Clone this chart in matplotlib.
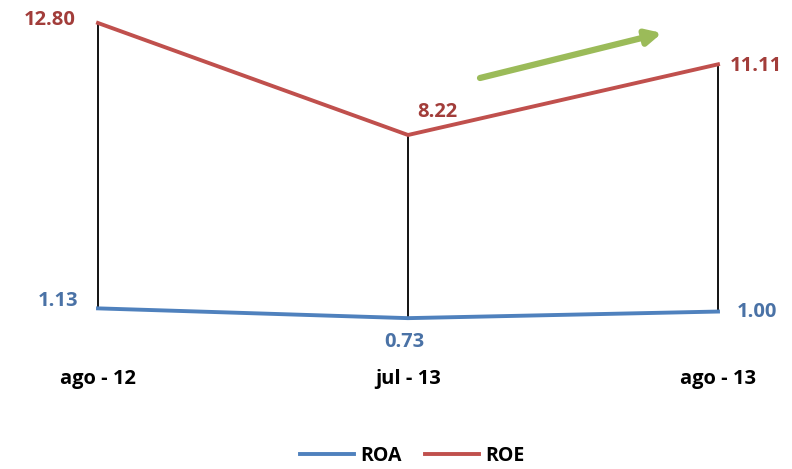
import matplotlib.pyplot as plt

# Data
periods = ['ago - 12', 'jul - 13', 'ago - 13']
roa = [1.13, 0.73, 1.00]
roe = [12.80, 8.22, 11.11]

roa_color = '#4F81BD'
roe_color = '#C0504D'
roa_text = '#4A72A6'
roe_text = '#A23D3A'

plt.rcParams['font.family'] = ['Open Sans', 'DejaVu Sans']

fig = plt.figure(figsize=(7.92, 4.69), dpi=100)
W, H = 792, 469
ax = fig.add_axes([98 / W, (H - 336) / H, (718 - 98) / W, (336 - 23) / H])

x = list(range(len(periods)))

# high-low lines
for xi, a, e in zip(x, roa, roe):
    ax.plot([xi, xi], [a, e], color='black', lw=1.3, zorder=1, clip_on=False)

ax.plot(x, roa, color=roa_color, lw=2.8, label='ROA', clip_on=False, zorder=2)
ax.plot(x, roe, color=roe_color, lw=2.8, label='ROE', clip_on=False, zorder=2)

ax.set_xlim(0, 2)
ax.set_ylim(0, 12.8)

# data labels (offsets in points)
roe_off = [(-34.5, 2), (21, 16.5), (27.5, -1.5)]
roa_off = [(-29, 5), (-3, -17), (28, 0)]
for xi, v, off in zip(x, roe, roe_off):
    ax.annotate(f'{v:.2f}', (xi, v), xytext=off, textcoords='offset points',
                ha='center', va='center', fontsize=14.5, fontweight='bold',
                color=roe_text, annotation_clip=False)
for xi, v, off in zip(x, roa, roa_off):
    ax.annotate(f'{v:.2f}', (xi, v), xytext=off, textcoords='offset points',
                ha='center', va='center', fontsize=14.5, fontweight='bold',
                color=roa_text, annotation_clip=False)

ax.set_xticks(x)
ax.set_xticklabels(periods, fontsize=14.5, fontweight='bold')
ax.tick_params(axis='x', length=0, pad=24)
ax.set_yticks([])
for s in ax.spines.values():
    s.set_visible(False)

# green trend arrow
ax.annotate('', xy=(662, H - 33), xytext=(480, H - 78), xycoords='figure pixels',
            textcoords='figure pixels',
            arrowprops=dict(arrowstyle='-|>,head_length=0.9,head_width=0.45',
                            color='#9BBB59', lw=4.5, shrinkA=0, shrinkB=0),
            annotation_clip=False)

leg = fig.legend(loc='center', bbox_to_anchor=(412 / W, (H - 456) / H), ncol=2,
                 frameon=False, handlelength=2.8, handletextpad=0.3,
                 columnspacing=1.2, borderpad=0.2, prop={'size': 14, 'weight': 'bold'})

fig.savefig('out.png', dpi=100)
